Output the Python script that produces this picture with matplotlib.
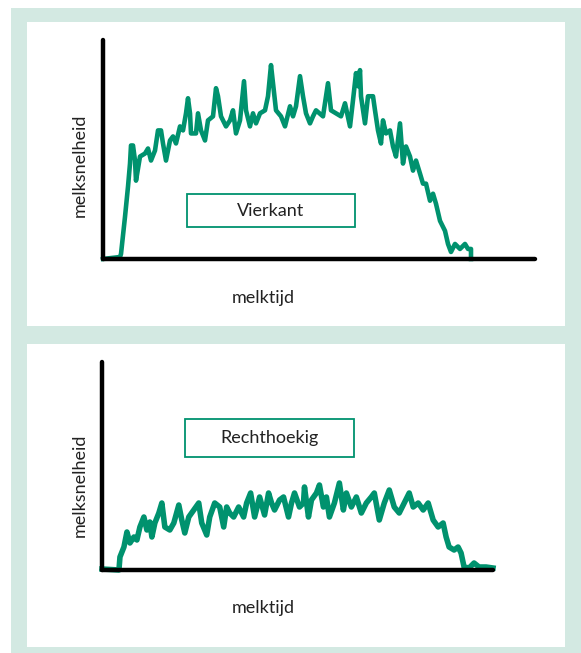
import numpy as np
import matplotlib.pyplot as plt
from matplotlib.patches import Rectangle

plt.rcParams['font.family'] = ['Lato', 'DejaVu Sans']

# milk flow curves (arbitrary units)
t_vierkant = [0, 17, 18, 22, 25, 27, 28, 30, 32, 33, 37, 42, 45, 48, 52, 55, 58, 60, 63, 67,
              70, 73, 77, 80, 83, 85, 87, 88, 93, 95, 98, 102, 105, 110, 113, 115, 118, 123,
              127, 130, 133, 137, 141, 143, 147, 150, 153, 157, 162, 165, 168, 170, 173, 178,
              182, 187, 190, 193, 197, 200, 203, 207, 210, 213, 220, 225, 228, 233, 238, 242,
              247, 250, 253, 255, 257, 258, 262, 265, 270, 272, 275, 278, 280, 283, 287, 290,
              293, 297, 300, 303, 307, 310, 313, 317, 320, 323, 327, 330, 333, 337, 342, 345,
              348, 352, 357, 362, 365, 368, 368]
v_vierkant = [0, 2, 5, 42, 72, 95, 113, 113, 98, 78, 102, 105, 110, 98, 108, 128, 128, 115, 98, 118,
              122, 115, 132, 128, 145, 160, 145, 125, 125, 145, 128, 118, 138, 142, 170, 162, 142, 132,
              138, 148, 125, 138, 177, 148, 132, 145, 135, 145, 148, 162, 193, 175, 148, 142,
              132, 152, 142, 152, 182, 162, 145, 135, 142, 148, 142, 175, 148, 145, 142, 155,
              132, 158, 185, 172, 188, 162, 135, 162, 162, 148, 128, 115, 138, 125, 128, 112,
              102, 135, 95, 112, 102, 88, 98, 85, 75, 75, 58, 65, 55, 38, 28, 15,
              7, 15, 10, 15, 10, 10, 0]

t_recht = [0, 17, 18, 22, 25, 28, 32, 35, 38, 42, 45, 48, 50, 53, 57, 60, 63, 68, 72, 77,
           80, 83, 87, 92, 97, 100, 105, 108, 113, 118, 122, 125, 128, 132, 137, 142, 145,
           149, 153, 158, 163, 167, 170, 173, 178, 182, 187, 190, 193, 198, 202, 203, 207,
           210, 215, 218, 222, 225, 228, 233, 238, 242, 245, 250, 255, 260, 265, 270, 273,
           278, 283, 288, 293, 298, 303, 308, 312, 317, 322, 327, 332, 337, 342, 345, 348,
           353, 357, 360, 363, 368, 373, 378, 385, 392]
v_recht = [1, 0, 13, 23, 38, 27, 33, 30, 43, 53, 40, 48, 33, 47, 57, 67, 43, 40, 47, 65,
           50, 37, 53, 60, 67, 47, 35, 53, 67, 63, 43, 63, 57, 53, 63, 53, 67,
           77, 53, 73, 55, 77, 67, 60, 70, 73, 53, 67, 77, 63, 67, 83, 53,
           70, 77, 85, 63, 73, 53, 67, 87, 60, 77, 63, 73, 57, 67, 73, 77,
           50, 67, 80, 63, 57, 67, 77, 63, 67, 60, 67, 50, 43, 47, 33, 23,
           20, 23, 17, 3, 2, 7, 3, 3, 2]

W, H = 581, 653
green = '#00926e'
frame = '#d3e9e2'

fig = plt.figure(figsize=(W / 100, H / 100), dpi=100)
fig.patch.set_facecolor('white')


def fx(x):
    return x / W


def fy(y):
    return 1 - y / H


# background frame and white panels
fig.patches.append(Rectangle((fx(11), fy(653)), fx(570), 645 / H, transform=fig.transFigure,
                             facecolor=frame, edgecolor='none', zorder=-2))
for top, bot in [(22, 326), (344, 647)]:
    fig.patches.append(Rectangle((fx(27), fy(bot)), fx(538), (bot - top) / H,
                                 transform=fig.transFigure, facecolor='white',
                                 edgecolor='none', zorder=-1))


def panel(left, top, right, bottom, t, v, xmax, ymax, label, box, ylab_y, xlab_y, lw):
    ax = fig.add_axes([fx(left), fy(bottom), fx(right - left), (bottom - top) / H])
    ax.set_zorder(1)
    ax.patch.set_alpha(0)
    ax.plot(t, v, color=green, lw=lw, solid_joinstyle='round', clip_on=False)
    ax.set_xlim(0, xmax)
    ax.set_ylim(0, ymax)
    for s in ['top', 'right']:
        ax.spines[s].set_visible(False)
    for s in ['left', 'bottom']:
        ax.spines[s].set_linewidth(3.2)
        ax.spines[s].set_color('black')
        ax.spines[s].set_capstyle('round')
    ax.set_xticks([])
    ax.set_yticks([])
    bx0, by0, bx1, by1 = box
    fig.patches.append(Rectangle((fx(bx0), fy(by1)), fx(bx1 - bx0), (by1 - by0) / H,
                                 transform=fig.transFigure, facecolor='white',
                                 edgecolor=green, lw=1.3, zorder=3))
    fig.text(fx((bx0 + bx1) / 2), fy((by0 + by1) / 2), label, ha='center', va='center',
             fontsize=13, color='#222222', zorder=4)
    fig.text(fx(80), fy(ylab_y), 'melksnelheid', rotation=90, ha='center', va='center',
             fontsize=13, color='#222222')
    fig.text(fx(263), fy(xlab_y), 'melktijd', ha='center', va='center',
             fontsize=13, color='#222222')
    return ax


panel(103, 40, 535, 259, t_vierkant, v_vierkant, 432, 218, 'Vierkant',
      (187, 194, 355, 227), 165, 298, 3.3)
panel(102, 362, 493, 570, t_recht, v_recht, 392, 208, 'Rechthoekig',
      (185, 419, 354, 457), 485, 608, 4.0)

fig.savefig('out.png', dpi=100)
